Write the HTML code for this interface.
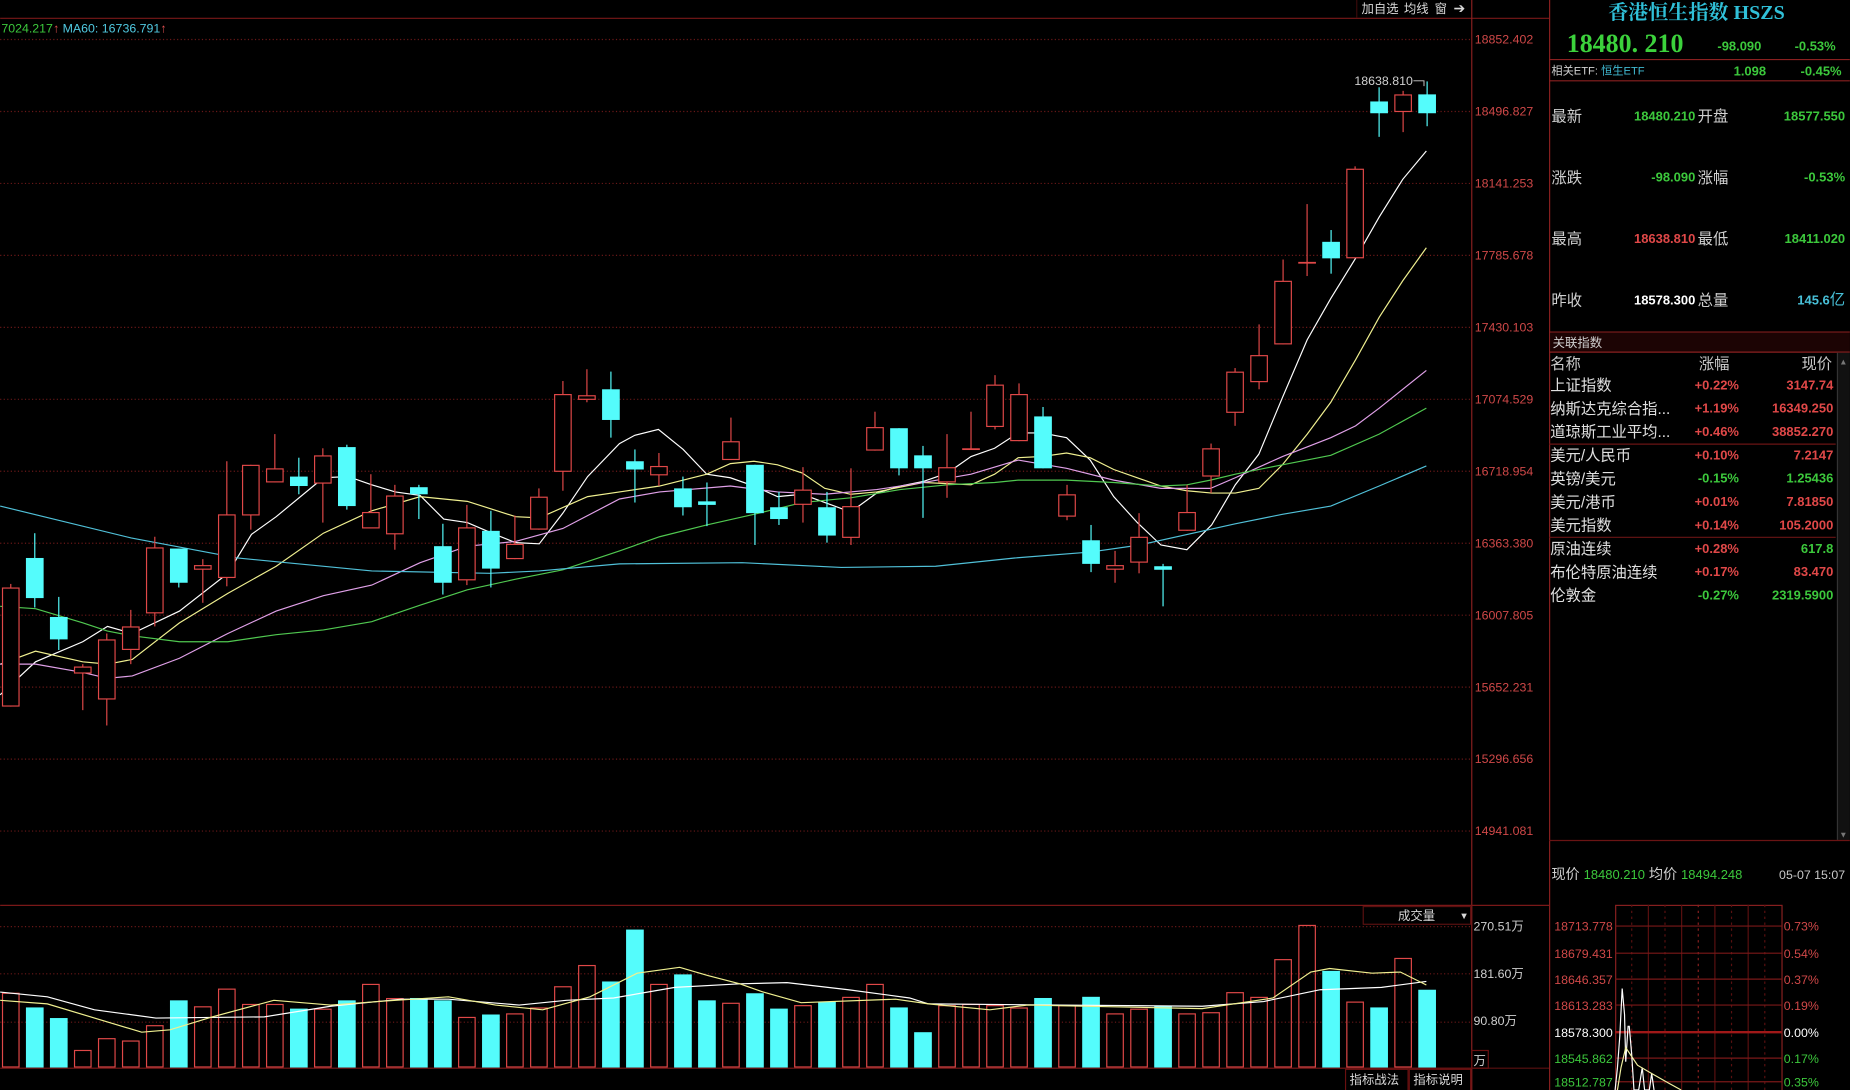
<!DOCTYPE html>
<html><head><meta charset="utf-8">
<style>
html,body{margin:0;padding:0;background:#000;overflow:hidden}
svg{display:block}
text{font-family:"Liberation Sans","Noto Sans CJK SC",sans-serif}
.cj{font-family:"Liberation Sans","Noto Sans CJK SC",sans-serif}
</style></head>
<body>
<svg id="s" width="1850" height="1090" viewBox="0 0 1568 924" xmlns="http://www.w3.org/2000/svg">
<rect width="1568" height="924" fill="#000"/>
<g id="grid"></g>
<g id="ma"></g>
<g id="cd"></g>
<g id="vol"></g>
<line x1="0" y1="15.5" x2="1313" y2="15.5" stroke="#7a1818"/>
<line x1="1247.5" y1="0" x2="1247.5" y2="924" stroke="#8a2020"/>
<line x1="1313.5" y1="0" x2="1313.5" y2="924" stroke="#8a2020"/>
<line x1="0" y1="767.5" x2="1247" y2="767.5" stroke="#7a1818"/>
<line x1="1247" y1="767.5" x2="1313" y2="767.5" stroke="#7a1818"/>
<line x1="1247" y1="905.5" x2="1313" y2="905.5" stroke="#5a1010"/>
<g font-size="10.5" fill="#d8d8d8" class="cj">
<text x="1154" y="11">加自选</text><text x="1190" y="11">均线</text><text x="1216" y="11">窗</text>
<text x="1232" y="11" font-size="12">➔</text>
</g>
<line x1="1150" y1="0" x2="1150" y2="15" stroke="#3a0a0a"/>
<text x="1" y="27.5" font-size="10.5" fill="#3cc83c">7024.217<tspan fill="#e05050">↑</tspan> <tspan fill="#50c8e0">MA60: 16736.791</tspan><tspan fill="#e05050">↑</tspan></text>
<text x="1148" y="72" font-size="10.5" fill="#d0d0d0">18638.810</text>
<polyline points="1198,68.5 1207,68.5 1207,73" fill="none" stroke="#d0d0d0" stroke-width="0.8"/>
<g id="axl" font-size="10.5" fill="#d04848"></g>
<rect x="1155.5" y="768.5" width="91" height="15" fill="#000" stroke="#5a1010"/>
<text x="1185" y="780" font-size="10.5" fill="#d8d8d8" class="cj">成交量</text>
<text x="1237" y="779" font-size="8" fill="#d8d8d8">▼</text>
<g font-size="10.5" fill="#d0d0d0" class="cj">
<text x="1249" y="789">270.51万</text>
<text x="1249" y="829">181.60万</text>
<text x="1249" y="869">90.80万</text>
<text x="1249" y="903">万</text>
</g>
<rect x="1247.5" y="890.5" width="14" height="15" fill="none" stroke="#6a1010"/>
<rect x="1140.5" y="906.5" width="53" height="18" fill="#000" stroke="#6a1010"/>
<rect x="1194.5" y="906.5" width="52" height="18" fill="#000" stroke="#6a1010"/>
<g font-size="10.5" fill="#d8d8d8" class="cj"><text x="1144" y="919">指标战法</text><text x="1198" y="919">指标说明</text></g>

<text x="1438" y="16" font-size="17" font-weight="bold" fill="#30c0d8" text-anchor="middle" style="font-family:'Liberation Serif','Noto Serif CJK SC',serif">香港恒生指数 HSZS</text>
<text x="1328" y="44" font-size="22" font-weight="bold" fill="#3cd23c" style="font-family:'Liberation Serif',serif">18480. 210</text>
<text x="1493" y="43" font-size="11" font-weight="bold" text-anchor="end" fill="#3cc83c">-98.090</text>
<text x="1556" y="43" font-size="11" font-weight="bold" text-anchor="end" fill="#3cc83c">-0.53%</text>
<line x1="1313" y1="50.5" x2="1568" y2="50.5" stroke="#8a2020"/>
<text x="1315" y="63" font-size="9.5" fill="#d0d0d0" class="cj">相关ETF: <tspan fill="#40b8d0">恒生ETF</tspan></text>
<text x="1497" y="64" font-size="11" fill="#3cc83c" font-weight="bold" text-anchor="end">1.098</text>
<text x="1561" y="64" font-size="11" fill="#3cc83c" font-weight="bold" text-anchor="end">-0.45%</text>
<line x1="1313" y1="68.5" x2="1568" y2="68.5" stroke="#8a2020"/>
<g font-size="13" fill="#d0d0d0" class="cj">
<text x="1315" y="103">最新</text><text x="1439" y="103">开盘</text>
<text x="1315" y="155">涨跌</text><text x="1439" y="155">涨幅</text>
<text x="1315" y="207">最高</text><text x="1439" y="207">最低</text>
<text x="1315" y="259">昨收</text><text x="1439" y="259">总量</text>
</g>
<g font-size="11" font-weight="bold" text-anchor="end">
<text x="1437" y="102" fill="#3cc83c">18480.210</text><text x="1564" y="102" fill="#3cc83c">18577.550</text>
<text x="1437" y="154" fill="#3cc83c">-98.090</text><text x="1564" y="154" fill="#3cc83c">-0.53%</text>
<text x="1437" y="206" fill="#e04848">18638.810</text><text x="1564" y="206" fill="#3cc83c">18411.020</text>
<text x="1437" y="258" fill="#ffffff">18578.300</text><text x="1564" y="258" fill="#48c0d8">145.6<tspan class="cj" font-weight="normal" font-size="13">亿</tspan></text>
</g>
<line x1="1313" y1="281.5" x2="1568" y2="281.5" stroke="#8a2020"/>
<rect x="1314" y="282" width="254" height="16" fill="#1c0404"/>
<text x="1316" y="294" font-size="10.5" fill="#d0d0d0" class="cj">关联指数</text>
<line x1="1313" y1="298.5" x2="1568" y2="298.5" stroke="#8a2020"/>
<rect x="1557" y="299" width="11" height="413" fill="#111"/>
<line x1="1557.5" y1="299" x2="1557.5" y2="712" stroke="#333"/>
<text x="1559" y="309" font-size="7" fill="#777">▲</text>
<text x="1559" y="710" font-size="7" fill="#777">▼</text>
<g font-size="13" fill="#d8d8d8" class="cj">
<text x="1314" y="313" fill="#c8c8c8">名称</text><text x="1440" y="313" fill="#c8c8c8">涨幅</text><text x="1527" y="313" fill="#c8c8c8">现价</text>
</g>
<g id="tbl"></g>
<line x1="1313" y1="376.5" x2="1556" y2="376.5" stroke="#6a1414"/>
<line x1="1313" y1="455.5" x2="1556" y2="455.5" stroke="#6a1414"/>
<line x1="1313" y1="712.5" x2="1568" y2="712.5" stroke="#6a1414"/>
<text x="1315" y="745" font-size="12" fill="#d0d0d0" class="cj">现价 <tspan fill="#3cc83c" font-size="11">18480.210</tspan> 均价 <tspan fill="#3cc83c" font-size="11">18494.248</tspan></text>
<text x="1508" y="745" font-size="10.5" fill="#c8c8c8">05-07 15:07</text>
<g id="mini"></g>
</svg>
<script>
var NS="http://www.w3.org/2000/svg";
function el(p,t,a,txt){var e=document.createElementNS(NS,t);for(var k in a)e.setAttribute(k,a[k]);if(txt!=null)e.textContent=txt;document.getElementById(p).appendChild(e);return e;}
var gy=[33,94,155,216,277,338,399,460,521,582,643,704];
var gl=["18852.402","18496.827","18141.253","17785.678","17430.103","17074.529","16718.954","16363.380","16007.805","15652.231","15296.656","14941.081"];
gy.forEach(function(y,i){el("grid","line",{x1:0,y1:y+.5,x2:1247,y2:y+.5,stroke:"#6a1818","stroke-dasharray":"1,2"});el("axl","text",{x:1250,y:y+4},gl[i]);});
[785,825,866].forEach(function(y){el("grid","line",{x1:0,y1:y+.5,x2:1247,y2:y+.5,stroke:"#6a1818","stroke-dasharray":"1,2"});});
var C=[[1,498,599,495,599],[0,473,507,452,515],[0,523,542,506,551],[1,565,571,563,602],[1,542,593,537,615],[1,531,551,517,563],[1,464,520,455,531],[0,465,494,465,498],[1,479,483,474,511],[1,436,490,391,497],
[1,394,437,394,449],[1,397,409,368,409],[0,404,412,388,419],[1,386,410,380,443],[0,379,429,377,432],[1,434,448,402,448],[1,420,453,411,466],[0,413,419,411,440],[0,463,494,444,504],[1,447,492,428,496],
[0,450,482,433,498],[1,461,474,437,474],[1,421,449,414,449],[1,334,400,323,416],[1,335,339,313,341],[0,330,356,315,371],[0,391,398,381,426],[1,395,403,384,412],[0,414,430,404,437],[0,425,428,409,446],
[1,374,390,354,390],[0,394,435,394,462],[0,430,440,417,445],[1,415,428,396,443],[0,430,454,417,460],[1,429,456,397,462],[1,362,382,349,382],[0,363,397,363,403],[0,386,397,378,439],[1,396,409,368,422],
[1,380,381,349,381],[1,326,362,318,364],[1,334,374,325,374],[0,353,397,345,397],[1,419,438,411,441],[0,458,478,445,485],[1,479,483,467,494],[1,455,477,435,486],[0,480,483,478,514],[1,434,450,411,450],
[1,380,404,376,418],[1,315,350,312,361],[1,301,324,275,330],[1,238,292,220,292],[1,222,223,173,234],[0,205,219,195,232],[1,143,219,141,219],[0,86,96,74,116],[1,80,95,77,112],[0,80,96,69,107]];
var V=[841.5,854,863,890,880,882,869,848,853,838,851,851,855,855,848,834,846,846,848,862,860,859,854,836,818,832,788,834,826,848,850,
842,855,852,849,845,834,854,875,852,851,852,854,846,852,845,859,855,853,859,858,841,845,813,784,823,849,854,812,839];
var RED="#e04848",CY="#54fcfc",W=15;
C.forEach(function(c,i){var x=9+i*20.35;var col=c[0]?RED:CY;
 el("cd","line",{x1:x,y1:c[3],x2:x,y2:c[4],stroke:col,"stroke-width":1});
 var h=Math.max(c[2]-c[1],1);
 if(c[0])el("cd","rect",{x:x-W/2+.5,y:c[1]+.5,width:W-1,height:Math.max(h-1,0.5),fill:"#000",stroke:col,"stroke-width":1});
 else el("cd","rect",{x:x-W/2,y:c[1],width:W,height:h,fill:col});
 var vt=V[i];
 if(c[0])el("vol","rect",{x:x-W/2+.5,y:vt+.5,width:W-1,height:905-vt-1,fill:"none",stroke:col,"stroke-width":1});
 else el("vol","rect",{x:x-W/2,y:vt,width:W,height:905-vt,fill:col});
});
el("vol","line",{x1:0,y1:905.5,x2:1247,y2:905.5,stroke:"#7a1818"});
function pl(pts,col,g){el(g||"ma","polyline",{points:pts,fill:"none",stroke:col,"stroke-width":1});}
pl("0,589 30,561 70,544 91,531 112,537 152,518 193,486 213,453 234,438 274,405 295,404 315,411 335,417 356,420 376,440 396,443 417,452 437,460 457,461 477,435 498,404 525,376 538,369 558,364 579,381 599,402 619,405 639,412 659,421 680,419 721,434 743,418 763,412 783,408 803,401 823,387 843,380 863,367 883,367 904,371 924,390 944,421 964,443 984,462 1006,466 1027,445 1047,411 1067,385 1087,337 1108,288 1128,253 1149,219 1169,184 1189,152 1209,128","#ffffff");
pl("0,563 30,552 70,561 91,563 112,559 152,528 193,503 234,480 274,452 315,433 356,421 396,425 437,438 457,439 498,421 525,417 559,412 599,402 619,393 639,391 659,394 680,401 699,414 721,419 743,417 783,409 823,411 843,402 863,388 883,387 904,384 924,388 944,398 964,405 984,412 1006,416 1027,418 1047,418 1067,414 1087,394 1108,368 1128,341 1149,305 1169,269 1189,238 1209,210","#f0f090");
pl("0,563 30,563 70,570 91,575 112,573 152,558 193,537 234,518 274,505 315,496 356,477 396,463 437,459 477,448 525,423 559,417 619,412 659,417 699,419 743,415 783,409 823,402 863,390 904,397 944,407 984,414 1006,414 1026,414 1047,405 1087,387 1128,371 1149,361 1169,346 1209,314","#e0a0e8");
pl("0,514 30,516 70,528 91,535 112,539 152,544 193,544 234,538 274,534 315,527 356,513 396,500 437,491 477,483 525,467 559,455 599,445 639,436 680,426 721,422 763,415 803,411 843,409 863,407 904,407 944,409 984,412 1006,411 1026,407 1047,402 1087,394 1128,386 1169,368 1209,346","#50c850");
pl("0,429 111,456 201,473 315,484 415,486 457,484 525,478 629,477 713,481 793,480 860,473 924,468 966,462 1047,444 1087,436 1128,429 1169,412 1209,395","#50c0d8");
pl("0,841 40,845 80,856 132,863 224,862 280,853 340,847 380,847 440,852 480,848 520,846 572,837 627,834 667,833 719,839 771,846 787,851 899,852 1019,853 1071,849 1119,839 1171,837 1209,832","#ffffff","vol");
pl("0,848 40,851 80,863 120,875 144,873 180,862 232,848 280,852 320,849 380,845 420,852 460,856 500,845 540,825 576,820 600,827 627,834 647,841 679,850 759,847 787,851 839,856 871,852 1019,855 1079,846 1111,824 1127,821 1163,825 1187,824 1209,835","#f0f090","vol");
var T=[["上证指数","+0.22%","3147.74",1,1],["纳斯达克综合指...","+1.19%","16349.250",1,1],["道琼斯工业平均...","+0.46%","38852.270",1,1],["美元/人民币","+0.10%","7.2147",1,1],["英镑/美元","-0.15%","1.25436",0,0],["美元/港币","+0.01%","7.81850",1,1],["美元指数","+0.14%","105.2000",1,1],["原油连续","+0.28%","617.8",1,0],["布伦特原油连续","+0.17%","83.470",1,1],["伦敦金","-0.27%","2319.5900",0,0]];
T.forEach(function(r,i){var y=331+i*19.8;
 el("tbl","text",{x:1314,y:y,"font-size":13,fill:"#e0e0e0"},r[0]);
 el("tbl","text",{x:1474,y:y-1,"font-size":11,"font-weight":"bold","text-anchor":"end",fill:r[3]?"#e04848":"#3cc83c"},r[1]);
 el("tbl","text",{x:1554,y:y-1,"font-size":11,"font-weight":"bold","text-anchor":"end",fill:r[4]?"#e04848":"#3cc83c"},r[2]);
});
var mx0=1369,mx1=1510;
el("mini","rect",{x:mx0+.5,y:767.5,width:mx1-mx0,height:160,fill:"none",stroke:"#8a2020"});
for(var k=1;k<10;k++){var vx=mx0+k*14.1;el("mini","line",{x1:vx,y1:767,x2:vx,y2:924,stroke:k==5?"#8a2020":"#5a1010","stroke-dasharray":k%2?"2,3":"none"});}
var my=[789,812,834,856,879,901,921],ml=["18713.778","18679.431","18646.357","18613.283","18578.300","18545.862","18512.787"],mp=["0.73%","0.54%","0.37%","0.19%","0.00%","0.17%","0.35%"];
my.forEach(function(y,i){
 el("mini","line",{x1:mx0,y1:y-4,x2:mx1,y2:y-4,stroke:i==4?"#a01818":"#7a1818","stroke-width":i==4?2:1});
 var c=i<4?"#d04848":(i==4?"#ffffff":"#3cc83c");
 el("mini","text",{x:1367,y:y,"font-size":10.5,"text-anchor":"end",fill:c},ml[i]);
 el("mini","text",{x:1512,y:y,"font-size":10.5,fill:c},mp[i]);
});
pl("1369,924 1371,905 1373,878 1375,838 1377,860 1378,900 1380,870 1381,870 1383,893 1385,924 1389,924 1392,905 1394,924 1398,924 1400,910 1402,924","#ffffff","mini");
pl("1371,924 1374,905 1378,888 1382,894 1388,903 1400,910 1414,918 1425,924","#f0f0a0","mini");
</script>
</body></html>
